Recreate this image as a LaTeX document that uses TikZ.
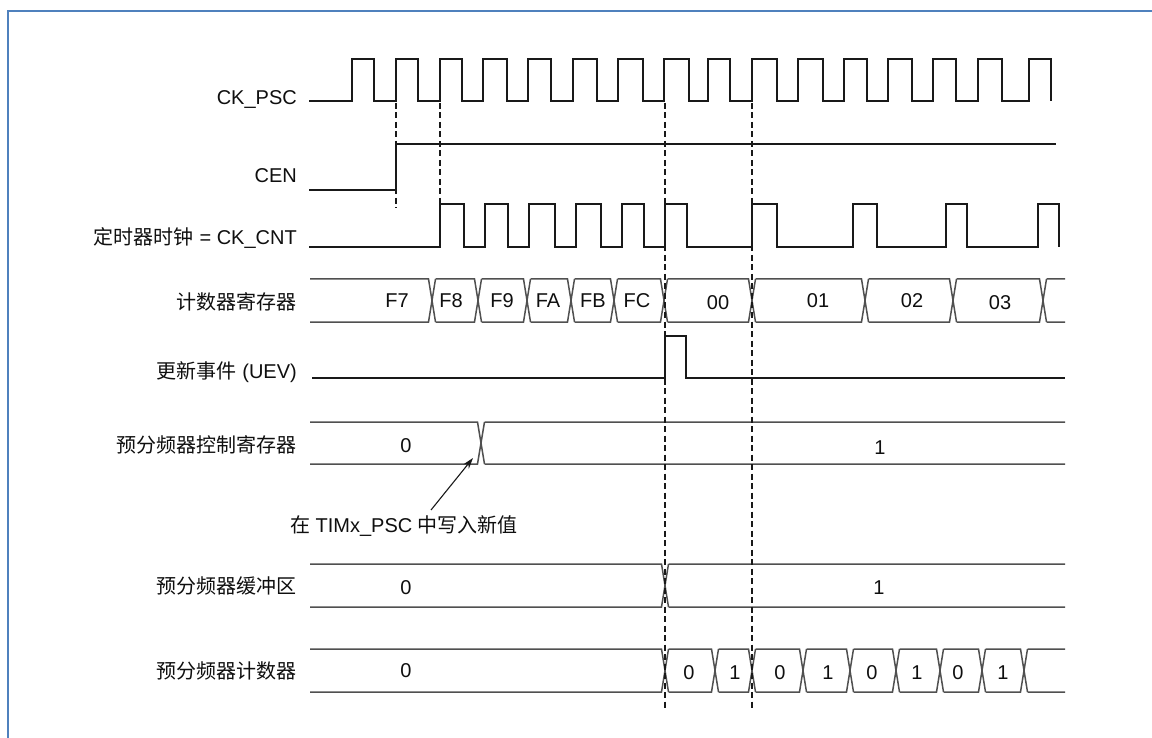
\documentclass[tikz,border=0pt]{standalone}
\usepackage{fontspec}
\setmainfont{Liberation Sans}
\newfontfamily\cjk{Noto Sans CJK SC}
\usetikzlibrary{arrows.meta}
\definecolor{wavec}{RGB}{25,25,25}
\definecolor{busc}{RGB}{80,80,80}
\definecolor{framec}{RGB}{79,129,189}
\definecolor{txt}{RGB}{15,15,15}
% #1 top, #2 bottom, #3 start x, #4 end x, #5 transitions
\newcommand\tmgbus[5]{%
  \draw[bus] (#3,#1) foreach \c in {#5}{ -- (\c-3.5,#1) -- (\c+3.5,#2) (\c+3.5,#1)} -- (#4,#1);
  \draw[bus] (#3,#2) foreach \c in {#5}{ -- (\c-3.5,#2) -- (\c+3.5,#1) (\c+3.5,#2)} -- (#4,#2);
}
\begin{document}
\begin{tikzpicture}[x=1pt,y=-1pt,font=\fontsize{20}{24}\selectfont,
  wave/.style={draw=wavec,line width=2.4pt,line join=miter},
  bus/.style={draw=busc,line width=1.5pt},
  guide/.style={draw=wavec,line width=2.6pt,dash pattern=on 6pt off 3.5pt},
  sig/.style={anchor=base east,inner sep=0pt,text=txt},
  val/.style={anchor=base,inner sep=0pt,text=txt}]
\useasboundingbox (0,0) rectangle (1152,738);
\fill[white] (0,0) rectangle (1152,738);
\draw[framec,line width=1.3pt] (8,738) -- (8,11) -- (1152,11);

% signal names
\node[sig] (lpsc) at (297,105) {CK\_PSC};
\node[sig] (lcen) at (297,183) {CEN};
\node[sig] (lcnt) at (297,245) {{\cjk 定时器时钟} = CK\_CNT};
\node[sig] (lreg) at (297,309) {\cjk 计数器寄存器};
\node[sig] (luev) at (297,378) {{\cjk 更新事件} (UEV)};
\node[sig] (lpcr) at (297,452) {\cjk 预分频器控制寄存器};
\node[sig] (lbuf) at (297,593) {\cjk 预分频器缓冲区};
\node[sig] (lpcn) at (297,678) {\cjk 预分频器计数器};

% CK_PSC
\draw[wave] (309,101) foreach \r/\f in {352/374,396/418,440/462,483/507,528/551,573/597,618/643,664/689,708/730,752/777,798/823,844/867,888/912,933/956,978/1002,1029/1051}{ -- (\r,101) -- (\r,59) -- (\f,59) -- (\f,101)};
% CEN
\draw[wave] (309,190) -- (396,190) -- (396,144) -- (1056,144);
% CK_CNT
\draw[wave] (309,247) foreach \r/\f in {440/464,485/508,529/555,576/601,622/644,665/687,752/777,853/877,946/967,1038/1059}{ -- (\r,247) -- (\r,204) -- (\f,204) -- (\f,247)};
% counter register
\tmgbus{279}{322}{310}{1065}{432,478,527,571,614,664,752,865,953,1043}
\node[val] (vf7) at (397,308) {F7};
\node[val] (vf8) at (451,308) {F8};
\node[val] (vf9) at (502,308) {F9};
\node[val] (vfa) at (548,308) {FA};
\node[val] (vfb) at (593,308) {FB};
\node[val] (vfc) at (637,308) {FC};
\node[val] (v00) at (718,309) {00};
\node[val] (v01) at (818,308) {01};
\node[val] (v02) at (912,308) {02};
\node[val] (v03) at (1000,309) {03};
% UEV
\draw[wave] (312,378) -- (665,378) -- (665,336) -- (686,336) -- (686,378) -- (1065,378);
% prescaler control register
\tmgbus{422}{464}{310}{1065}{481}
\node[val] (pc0) at (406,452) {0};
\node[val] (pc1) at (880,454) {1};
% write arrow
\coordinate (wstart) at (431,510);
\coordinate (wtip) at (473,458);
\draw[wavec,line width=1.1pt,-{Stealth[length=11pt,width=7pt]}] (wstart) -- (wtip);
\node[val] (lwrite) at (404,532) {{\cjk 在} TIMx\_PSC {\cjk 中写入新值}};
% prescaler buffer
\tmgbus{564}{607}{310}{1065}{665}
\node[val] (pb0) at (406,594) {0};
\node[val] (pb1) at (879,594) {1};
% prescaler counter
\tmgbus{649}{692}{310}{1065}{665,715,752,803,850,896,940,982,1024}
\node[val] (pn0) at (406,677) {0};
\foreach \x/\v [count=\i] in {689/0,735/1,780/0,828/1,872/0,917/1,958/0,1003/1}
  \node[val] (pn\i) at (\x,679) {\v};
% dashed guides
\draw[guide] (396,103) -- (396,208);
\draw[guide] (440,103) -- (440,204);
\draw[guide] (665,103) -- (665,710);
\draw[guide] (752,103) -- (752,710);
\end{tikzpicture}
\end{document}
